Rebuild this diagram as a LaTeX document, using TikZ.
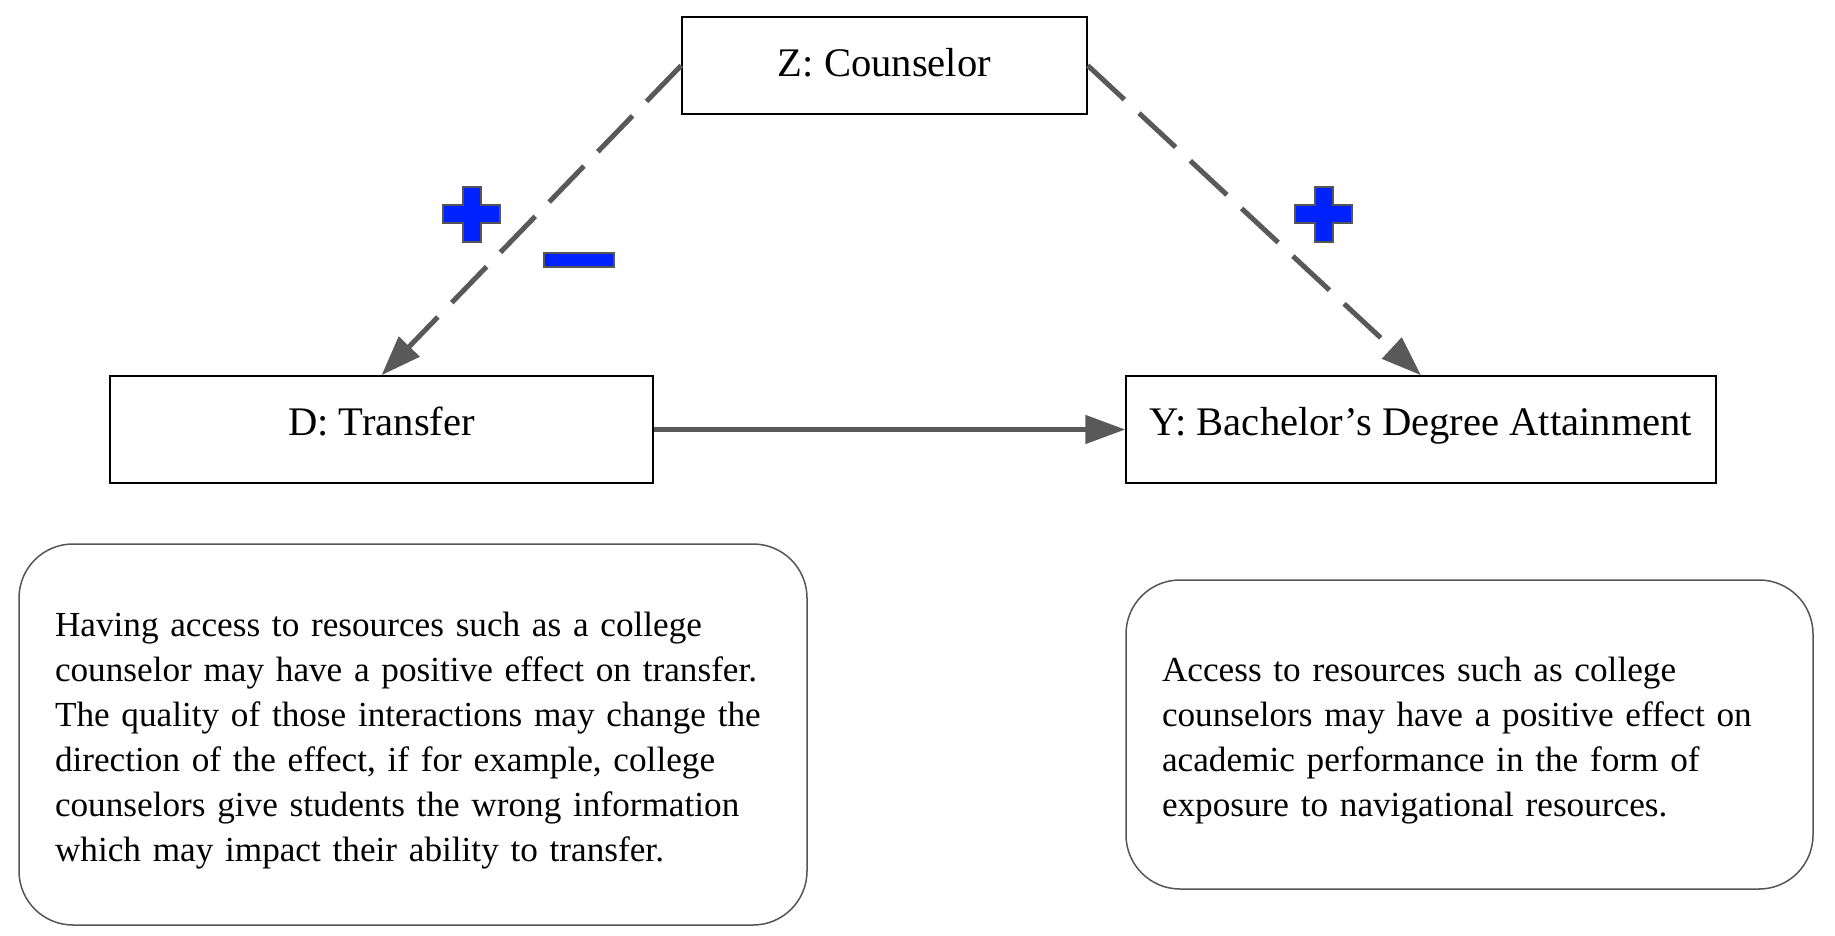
\documentclass[tikz,border=0pt]{standalone}
\usepackage{fontspec}
\setmainfont{Liberation Serif}
\usetikzlibrary{arrows.meta,positioning}
\definecolor{arrowGray}{HTML}{595959}
\definecolor{signBlue}{HTML}{0022FF}
\definecolor{edgeGray}{HTML}{555555}

\begin{document}
\begin{tikzpicture}[x=0.5pt,y=-0.5pt,
  box/.style={draw=black,line width=0.75pt,minimum height=53.5pt,text depth=8pt,
              font=\fontsize{20.3}{24}\selectfont},
  note/.style={draw=edgeGray,line width=0.75pt,rounded corners=27pt,align=left,
               inner xsep=18pt,font=\fontsize{17.6}{22.5}\selectfont},
  link/.style={line width=2.5pt,arrowGray,-{Triangle[length=20pt,width=14pt]}},
  signshape/.style={fill=signBlue,draw=edgeGray,line width=1pt}]
\useasboundingbox (0,0) rectangle (1835,936);
\node[box,minimum width=202.5pt,minimum height=48.5pt,text depth=3.5pt] (z) at (884.5,65.5) {Z: Counselor};
\node[box,minimum width=271.5pt] (d) at (381.5,429.5) {D: Transfer};
\node[box,minimum width=295pt] (y) at (1421,429.5) {Y: Bachelor’s Degree Attainment};
\node[note,minimum width=394pt,minimum height=190.5pt,text width=358pt] (n1) at (413,734.5)
  {\rule{0pt}{18pt}Having access to resources such as a college\\
   counselor may have a positive effect on transfer.\\
   The quality of those interactions may change the\\
   direction of the effect, if for example, college\\
   counselors give students the wrong information\\
   which may impact their ability to transfer.};
\node[note,minimum width=343.5pt,minimum height=154.5pt,text width=307.5pt] (n2) at (1469.5,734.5)
  {\rule{0pt}{18pt}Access to resources such as college\\
   counselors may have a positive effect on\\
   academic performance in the form of\\
   exposure to navigational resources.};
\draw[link,dash pattern=on 25pt off 10pt] (z.west) -- (d.north);
\draw[link,dash pattern=on 25pt off 10pt] (z.east) -- (y.north);
\draw[link] (d) -- (y);
\foreach \cx in {471.5,1323.5}
  \draw[signshape,shift={(\cx,214.5)}] (-9,-27.5) -- (9,-27.5) -- (9,-9) -- (28.5,-9) -- (28.5,9)
    -- (9,9) -- (9,27.5) -- (-9,27.5) -- (-9,9) -- (-28.5,9) -- (-28.5,-9) -- (-9,-9) -- cycle;
\draw[signshape] (544,253) rectangle (614,267);
\end{tikzpicture}
\end{document}
